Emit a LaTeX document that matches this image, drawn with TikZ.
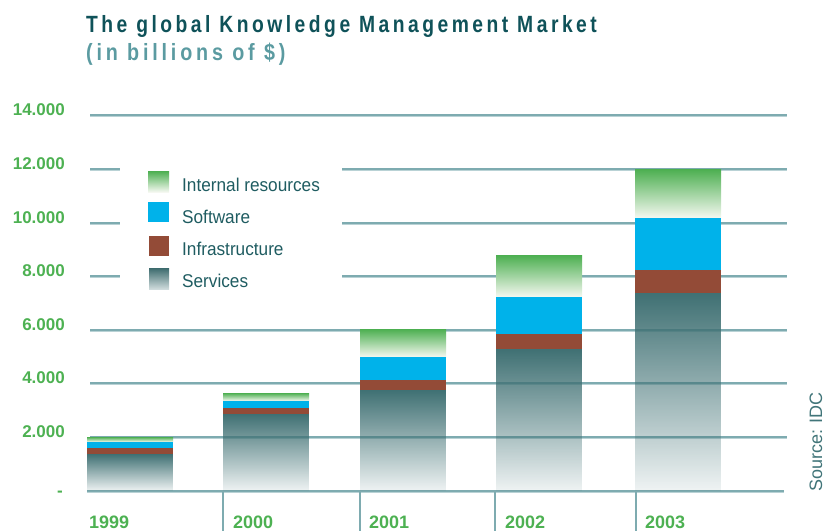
\documentclass[tikz,border=0pt]{standalone}
\usepackage{fontspec}
\setmainfont{Liberation Sans}
\newfontfamily\titlefont[FakeStretch=0.82,LetterSpace=14.9]{Liberation Sans}
\newfontfamily\subfont[FakeStretch=0.84,LetterSpace=16.2]{Liberation Sans}
\newfontfamily\legfont[FakeStretch=0.93]{Liberation Sans}
\usetikzlibrary{fadings}
\definecolor{titleteal}{HTML}{0F5259}
\definecolor{subteal}{HTML}{5B9BA1}
\definecolor{gridc}{HTML}{7EABB0}
\definecolor{gridl}{HTML}{B9D2D5}
\definecolor{labgreen}{HTML}{4DB152}
\definecolor{irgreen}{HTML}{4CAF50}
\definecolor{irlight}{HTML}{F5F8F1}
\definecolor{swblue}{HTML}{00B2EA}
\definecolor{infra}{HTML}{934B37}
\definecolor{svc}{HTML}{3F7073}
\definecolor{legtext}{HTML}{1F5C61}
\tikzfading[name=svcfade, top color=transparent!0, bottom color=transparent!92]
\tikzset{
  gridline/.style={draw=gridc, line width=1.1pt},
  gridshadow/.style={draw=gridl, line width=0.9pt},
  axlab/.style={font=\fontsize{17}{17}\selectfont\bfseries, text=labgreen, inner sep=0pt},
  yearlab/.style={font=\fontsize{18}{18}\selectfont\bfseries, text=labgreen, inner sep=0pt, anchor=base west},
  legtxt/.style={font=\legfont\fontsize{18.5}{18.5}\selectfont, text=legtext, inner sep=0pt, anchor=base west},
  irfill/.style={top color=irgreen, bottom color=irlight},
  swfill/.style={fill=swblue},
  infill/.style={fill=infra},
  svfill/.style={fill=svc, path fading=svcfade},
}
\newcommand\kmbar[5]{%
  \path[irfill] (#1,#2) rectangle (#1+86,#3);
  \path[swfill] (#1,#3) rectangle (#1+86,#4);
  \path[infill] (#1,#4) rectangle (#1+86,#5);
  \path[svfill] (#1,#5) rectangle (#1+86,491);
}
\newcommand\kmgrid[2]{%
  \draw[gridshadow] (#1,\yy+1.2) -- (#2,\yy+1.2);
  \draw[gridline] (#1,\yy) -- (#2,\yy);
}
\begin{document}
\begin{tikzpicture}[x=1pt,y=-1pt]
\useasboundingbox (0,0) rectangle (826,531);

% title
\node[anchor=base west, inner sep=0pt, text=titleteal, font=\titlefont\fontsize{23.5}{23.5}\selectfont\bfseries] (title) at (86,32) {The global Knowledge Management Market};
\node[anchor=base west, inner sep=0pt, text=subteal, font=\subfont\fontsize{23.5}{23.5}\selectfont\bfseries] (subtitle) at (86,60) {(in billions of \$)};

% grid lines
\foreach \yy in {115,330,383,437} {\kmgrid{90}{787}}
\foreach \yy in {169,223,276} {
  \kmgrid{90}{120}
  \kmgrid{342}{787}
}
\foreach \yy in {491} {\kmgrid{87}{784}}
\foreach \xx in {223,360,495,636} \draw[gridline] (\xx,492) -- (\xx,531);

% y labels
\foreach \v/\yy in {14.000/115,12.000/169,10.000/223,8.000/276,6.000/330,4.000/383,2.000/437}
  \node[axlab, anchor=base east] (y\yy) at (65,\yy) {\v};
\node[axlab, anchor=base east] (yzero) at (63,496) {-};

% bars
\kmbar{87}{437}{442}{448}{454}
\kmbar{223}{393}{401}{408}{414}
\kmbar{360}{329}{357}{380}{390}
\kmbar{496}{255}{297}{334}{349}
\kmbar{635}{169}{218}{270}{293}

% year labels
\node[yearlab] (y1999) at (89,528) {1999};
\node[yearlab] (y2000) at (233,528) {2000};
\node[yearlab] (y2001) at (369,528) {2001};
\node[yearlab] (y2002) at (505,528) {2002};
\node[yearlab] (y2003) at (645,528) {2003};

% legend
\path[irfill] (148,171) rectangle (169,192);
\path[swfill] (148,202) rectangle (169,222);
\path[infill] (149,236) rectangle (169,256);
\path[top color=svc!95!black, bottom color=svc!25] (149,268) rectangle (169,289);
\node[legtxt] (lir) at (182,191) {Internal resources};
\node[legtxt] (lsw) at (182,223) {Software};
\node[legtxt] (lin) at (182,255) {Infrastructure};
\node[legtxt] (lsv) at (182,287) {Services};

% source
\node[rotate=90, anchor=base west, inner sep=0pt, text=legtext!85, font=\fontsize{18}{18}\selectfont] (src) at (822,492) {Source: IDC};
\end{tikzpicture}
\end{document}
